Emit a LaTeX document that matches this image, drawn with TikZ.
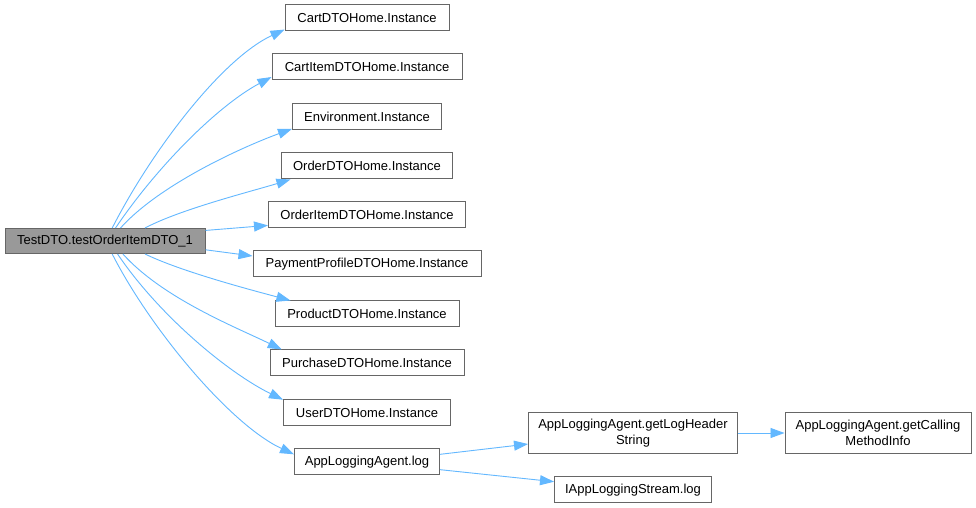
\documentclass[tikz,border=0pt]{standalone}
\usepackage{fontspec}
\setmainfont{Liberation Sans}
\usetikzlibrary{arrows.meta}
\definecolor{edgeblue}{HTML}{63B8FF}
\definecolor{boxgrey}{HTML}{666666}
\definecolor{rootfill}{HTML}{999999}
\begin{document}
\begin{tikzpicture}[x=1pt,y=1pt,
  box/.style={draw=boxgrey, line width=1pt, fill=white, minimum height=26pt, inner sep=0pt,
              font=\fontsize{13}{16}\selectfont, align=center, text=black},
  conn/.style={draw=edgeblue, line width=0.9pt, -{Triangle[length=14pt,width=10pt]}}]
\useasboundingbox (0,0) rectangle (976,508);
\fill[white] (0,0) rectangle (976,508);
\node[box, fill=rootfill, minimum width=200pt, minimum height=25pt] (root) at (105,267) {TestDTO.testOrderItemDTO\_1};
\node[box, minimum width=164pt] (cart) at (367,490) {CartDTOHome.Instance};
\node[box, minimum width=190pt] (cartitem) at (367,441) {CartItemDTOHome.Instance};
\node[box, minimum width=149pt] (env) at (367,391) {Environment.Instance};
\node[box, minimum width=171pt] (order) at (367,342) {OrderDTOHome.Instance};
\node[box, minimum width=197pt] (orderitem) at (367,293) {OrderItemDTOHome.Instance};
\node[box, minimum width=228pt] (payment) at (367,244) {PaymentProfileDTOHome.Instance};
\node[box, minimum width=184pt] (product) at (367,194) {ProductDTOHome.Instance};
\node[box, minimum width=194pt] (purchase) at (367,145) {PurchaseDTOHome.Instance};
\node[box, minimum width=167pt] (user) at (367,95) {UserDTOHome.Instance};
\node[box, minimum width=145pt] (log) at (367,46) {AppLoggingAgent.log};
\node[box, minimum width=209pt, minimum height=41pt] (header) at (633,75) {AppLoggingAgent.getLogHeader\\String};
\node[box, minimum width=186pt, minimum height=41pt] (calling) at (878,75) {AppLoggingAgent.getCalling\\MethodInfo};
\node[box, minimum width=157pt] (stream) at (633,18) {IAppLoggingStream.log};

\draw[conn] (root.61) .. controls +(63:85) and +(205:70) .. (cart.188);
\draw[conn] (root.51) .. controls +(56:75) and +(208:60) .. (cartitem.186);
\draw[conn] (root.40) .. controls +(48:60) and +(200:50) .. (env.189);
\draw[conn] (root.18) .. controls +(28:40) and +(197:40) .. (order.190);
\draw[conn] (root.6) -- (orderitem.186);
\draw[conn] (root.-5) -- (payment.176);
\draw[conn] (root.-18) .. controls +(-26:40) and +(165:40) .. (product.170);
\draw[conn] (root.-36) .. controls +(-48:60) and +(154:50) .. (purchase.171);
\draw[conn] (root.-46) .. controls +(-56:75) and +(154:60) .. (user.171);
\draw[conn] (root.-61) .. controls +(-63:85) and +(155:70) .. (log.174);
\draw[conn] (log.6) -- (header.186);
\draw[conn] (log.-6) -- (stream.174);
\draw[conn] (header.east) -- (calling.west);
\end{tikzpicture}
\end{document}
